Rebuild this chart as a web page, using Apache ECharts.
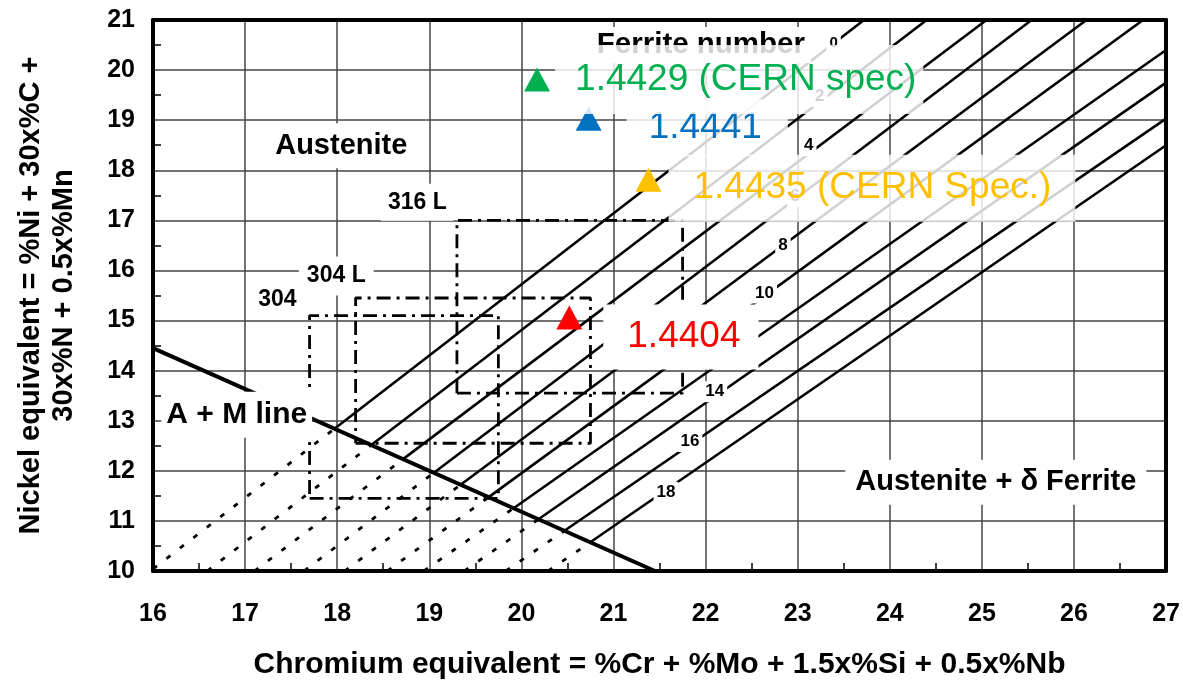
<!DOCTYPE html>
<html>
<head>
<meta charset="utf-8">
<title>WRC constitution diagram</title>
<script src="https://cdn.jsdelivr.net/npm/echarts@6/dist/echarts.min.js"></script>
<style>
  html, body { margin: 0; padding: 0; background: #ffffff; }
  #chart { width: 1183px; height: 685px; }
</style>
</head>
<body>
<div id="chart"></div>
<script>
// ---- axis ranges / tick labels ----
const crTicks = [16, 17, 18, 19, 20, 21, 22, 23, 24, 25, 26, 27];
const niTicks = [10, 11, 12, 13, 14, 15, 16, 17, 18, 19, 20, 21];

// ---- iso-ferrite lines ----
const ferriteNumbers = [0, 2, 4, 6, 8, 10, 12, 14, 16, 18];
// where each line leaves the A+M line (start of solid part)
const amCr = [17.97, 18.37, 18.715, 19.05, 19.34, 19.645, 19.915, 20.185, 20.467, 20.748];
const amNi = [12.84, 12.515, 12.233, 11.96, 11.723, 11.474, 11.253, 11.033, 10.803, 10.573];
// upper end of each line (top or right edge)
const endCr = [23.72, 24.40, 25.05, 25.54, 26.135, 26.75, 27, 27, 27, 27];
const endNi = [21, 21, 21, 21, 21, 21, 20.40, 19.75, 19.03, 18.50];
// lower end of the dotted continuation below the A+M line
const lowCr = [16, 16.59, 17.10, 17.64, 18.08, 18.545, 18.94, 19.38, 19.83, 20.29];
const lowNi = [10.04, 10, 10, 10, 10, 10, 10, 10, 10, 10];
// ferrite number tags sitting on the lines
const fnTagCr = [23.39, 23.24, 23.12, 22.97, 22.84, 22.64, 22.37, 22.10, 21.83, 21.57];
const fnTagNi = [20.54, 19.47, 18.49, 17.48, 16.50, 15.55, 14.50, 13.58, 12.585, 11.57];

// ---- austenite + martensite boundary ----
const amLineCr = [16, 21.45];
const amLineNi = [14.45, 10];

// ---- composition windows of standard grades ----
const gradeNames = ['316 L', '304 L', '304'];
const gradeCrMin = [19.3, 18.2, 17.7];
const gradeCrMax = [21.75, 20.75, 19.75];
const gradeNiMin = [13.55, 12.55, 11.45];
const gradeNiMax = [17.0, 15.45, 15.1];
const gradeTagCr = [18.87, 17.99, 17.35];
const gradeTagNi = [17.36, 15.89, 15.41];

// ---- region captions ----
const regionNames = ['Austenite', 'Austenite + \u03b4 Ferrite', 'Ferrite number', 'A + M line'];
const regionCr = [18.044, 25.151, 21.949, 16.909];
const regionNi = [18.49, 11.77, 20.50, 13.12];

// ---- measured alloys ----
const alloyNames = ['1.4404', '1.4435 (CERN Spec.)', '1.4441', '1.4429 (CERN spec)'];
const alloyCr = [20.52, 21.38, 20.73, 20.17];
const alloyNi = [15.06, 17.81, 19.03, 19.81];

// ---- styling ----
const FONT = '"Liberation Sans", Arial, Helvetica, sans-serif';
const alloyStyle = [
  { color: '#FF0000', bg: '#ffffff', distance: 21, offset: [0, 19.5], padding: [14, 18, 14, 24] },
  { color: '#FFC000', bg: 'rgba(255,255,255,0.82)', distance: 7, offset: [0, 8.5], padding: [12, 24, 18, 25] },
  { color: '#0070C0', bg: 'rgba(255,255,255,0.82)', distance: 25, offset: [0, 9], padding: [10, 26, 10, 22] },
  { color: '#00B050', bg: 'rgba(255,255,255,0.82)', distance: 5, offset: [0, 0], padding: [16, 7, 16, 20] }
];
const regionStyle = [
  { size: 29, padding: [8, 6] },
  { size: 29, padding: [8, 10] },
  { size: 29.5, padding: [3, 6] },
  { size: 30, padding: [8, 5] }
];
const gradeTagPadding = [[7, 7], [8, 8], [5, 5]];

const series = [];

// iso-ferrite lines: solid above the A+M line, dotted below it
ferriteNumbers.forEach((fn, i) => {
  series.push({
    type: 'line', name: 'FN ' + fn + ' line', z: 2, silent: true,
    symbol: 'none',
    data: [[amCr[i], amNi[i]], [endCr[i], endNi[i]]],
    lineStyle: { color: '#000', width: 2.6 }
  });
  series.push({
    type: 'line', name: 'FN ' + fn + ' dotted', z: 2, silent: true,
    symbol: 'none',
    data: [[lowCr[i], lowNi[i]], [amCr[i], amNi[i]]],
    lineStyle: { color: '#000', width: 2.8, type: [5, 12] }
  });
});

// A+M line
series.push({
  type: 'line', name: 'A+M', z: 3, silent: true, symbol: 'none',
  data: [[amLineCr[0], amLineNi[0]], [amLineCr[1], amLineNi[1]]],
  lineStyle: { color: '#000', width: 4 }
});

// grade windows (dash-dot rectangles)
gradeNames.forEach((g, i) => {
  series.push({
    type: 'line', name: g, z: 3, silent: true, symbol: 'none',
    data: [
      [gradeCrMin[i], gradeNiMin[i]], [gradeCrMax[i], gradeNiMin[i]],
      [gradeCrMax[i], gradeNiMax[i]], [gradeCrMin[i], gradeNiMax[i]],
      [gradeCrMin[i], gradeNiMin[i]]
    ],
    lineStyle: { color: '#000', width: 2.8, type: [14, 6, 3, 6] }
  });
});

const textBase = {
  show: true, position: 'inside', color: '#000', fontFamily: FONT,
  fontWeight: 'bold', backgroundColor: '#ffffff'
};
const hiddenAnchor = { color: 'rgba(0,0,0,0)', opacity: 1 };

// ferrite number tags
series.push({
  type: 'scatter', name: 'FN tags', z: 4, silent: true,
  symbol: 'circle', symbolSize: 1, itemStyle: hiddenAnchor,
  data: ferriteNumbers.map((fn, i) => ({
    value: [fnTagCr[i], fnTagNi[i]],
    label: Object.assign({}, textBase, {
      formatter: String(fn), fontSize: fn === 0 ? 15 : 17, padding: [2, 3]
    })
  }))
});

// grade captions
series.push({
  type: 'scatter', name: 'grade tags', z: 4, silent: true,
  symbol: 'circle', symbolSize: 1, itemStyle: hiddenAnchor,
  data: gradeNames.map((g, i) => ({
    value: [gradeTagCr[i], gradeTagNi[i]],
    label: Object.assign({}, textBase, {
      formatter: g, fontSize: 23, padding: gradeTagPadding[i]
    })
  }))
});

// region captions
series.push({
  type: 'scatter', name: 'regions', z: 4, silent: true,
  symbol: 'circle', symbolSize: 1, itemStyle: hiddenAnchor,
  data: regionNames.map((r, i) => ({
    value: [regionCr[i], regionNi[i]],
    label: Object.assign({}, textBase, {
      formatter: r, fontSize: regionStyle[i].size, padding: regionStyle[i].padding
    })
  }))
});

// measured alloys with their designation tags
alloyNames.forEach((a, i) => {
  const s = alloyStyle[i];
  series.push({
    type: 'scatter', name: a, z: 6, silent: true,
    symbol: 'triangle', symbolSize: [26, 24],
    itemStyle: { color: s.color, opacity: 1 },
    data: [[alloyCr[i], alloyNi[i]]],
    label: {
      show: true, formatter: a, position: 'right', distance: s.distance,
      offset: s.offset, padding: s.padding, backgroundColor: s.bg,
      color: s.color, fontSize: 37, fontFamily: FONT, fontWeight: 'normal'
    }
  });
});

const tickLabel = { color: '#000', fontFamily: FONT, fontWeight: 'bold', fontSize: 25 };

const option = {
  animation: false,
  backgroundColor: '#ffffff',
  grid: { left: 153, top: 20, right: 13, bottom: 112 },
  xAxis: [
    {
      type: 'value', min: crTicks[0], max: crTicks[crTicks.length - 1], interval: 1,
      name: 'Chromium equivalent = %Cr + %Mo + 1.5x%Si + 0.5x%Nb',
      nameLocation: 'middle', nameGap: 79,
      nameTextStyle: { color: '#000', fontFamily: FONT, fontWeight: 'bold', fontSize: 30 },
      axisLine: { show: true, lineStyle: { color: '#000', width: 4 } },
      axisTick: { show: false, inside: true },
      minorTick: { show: true, splitNumber: 2, length: 8, lineStyle: { color: '#000', width: 1.5 } },
      axisLabel: Object.assign({ margin: 31, formatter: v => crTicks.includes(v) ? String(v) : '' }, tickLabel),
      splitLine: { show: true, lineStyle: { color: '#444', width: 1.5 } }
    },
    {
      type: 'value', position: 'top', min: crTicks[0], max: crTicks[crTicks.length - 1], z: 10,
      axisLine: { show: true, lineStyle: { color: '#000', width: 4 } },
      axisTick: { show: false }, axisLabel: { show: false }, splitLine: { show: false }
    }
  ],
  yAxis: [
    {
      type: 'value', min: niTicks[0], max: niTicks[niTicks.length - 1], interval: 1,
      name: 'Nickel equivalent = %Ni + 30x%C +\n30x%N + 0.5x%Mn',
      nameLocation: 'middle', nameGap: 73, nameRotate: 90,
      nameTextStyle: { color: '#000', fontFamily: FONT, fontWeight: 'bold', fontSize: 29, lineHeight: 33, align: 'center' },
      axisLine: { show: true, lineStyle: { color: '#000', width: 4 } },
      axisTick: { show: false, inside: true },
      minorTick: { show: true, splitNumber: 2, length: 8, lineStyle: { color: '#000', width: 1.5 } },
      axisLabel: Object.assign({ margin: 18, formatter: v => niTicks.includes(v) ? String(v) : '' }, tickLabel),
      splitLine: { show: true, lineStyle: { color: '#444', width: 1.5 } }
    },
    {
      type: 'value', position: 'right', min: niTicks[0], max: niTicks[niTicks.length - 1], z: 10,
      axisLine: { show: true, lineStyle: { color: '#000', width: 4 } },
      axisTick: { show: false }, axisLabel: { show: false }, splitLine: { show: false }
    }
  ],
  series: series
};

const chart = echarts.init(document.getElementById('chart'));
chart.setOption(option);
</script>
</body>
</html>
